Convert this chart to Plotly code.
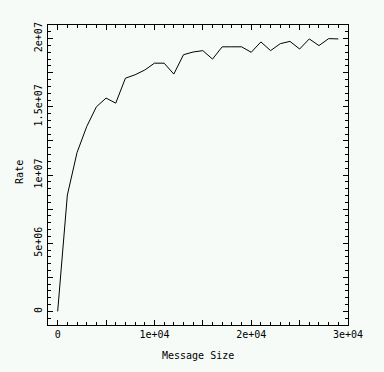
import plotly.graph_objects as go

message_size = [0, 1000, 2000, 3000, 4000, 5000, 6000, 7000, 8000, 9000,
                10000, 11000, 12000, 13000, 14000, 15000, 16000, 17000, 18000, 19000,
                20000, 21000, 22000, 23000, 24000, 25000, 26000, 27000, 28000, 29000]
rate = [0, 8.53e6, 11.64e6, 13.55e6, 15.0e6, 15.64e6, 15.27e6, 17.1e6, 17.35e6, 17.7e6,
        18.2e6, 18.2e6, 17.4e6, 18.82e6, 19.02e6, 19.12e6, 18.5e6, 19.4e6, 19.4e6, 19.4e6,
        19.0e6, 19.76e6, 19.12e6, 19.63e6, 19.8e6, 19.24e6, 19.98e6, 19.49e6, 20.0e6, 19.98e6]

x_tickvals = [0, 5000, 10000, 15000, 20000, 25000, 30000]
x_ticktext = ["0", "", "1e+04", "", "2e+04", "", "3e+04"]
y_tickvals = [0, 2.5e6, 5e6, 7.5e6, 1e7, 1.25e7, 1.5e7, 1.75e7, 2e7]
y_ticktext = ["0", "", "5e+06", "", "1e+07", "", "1.5e+07", "", "2e+07"]

FONT = "DejaVu Sans Mono"
BG = "#f6fbf8"

fig = go.Figure()
fig.add_trace(go.Scatter(x=message_size, y=rate, mode="lines",
                         line=dict(color="black", width=1), showlegend=False))

axis_common = dict(
    showline=True, linecolor="black", linewidth=1, mirror="allticks",
    ticks="inside", ticklen=5, tickcolor="black", tickwidth=1,
    showgrid=False, zeroline=False,
    tickfont=dict(family=FONT, size=10, color="black"),
)

fig.update_xaxes(range=[-1000, 30000], tickmode="array", tickvals=x_tickvals,
                 ticktext=x_ticktext,
                 minor=dict(tickmode="linear", tick0=0, dtick=1000, ticks="inside",
                            ticklen=3, tickcolor="black", tickwidth=1, showgrid=False),
                 **axis_common)
fig.update_yaxes(range=[-1e6, 2.1e7], tickmode="array", tickvals=y_tickvals,
                 ticktext=y_ticktext, tickangle=-90, ticklabelstandoff=1,
                 minor=dict(tickmode="linear", tick0=0, dtick=5e5, ticks="inside",
                            ticklen=3, tickcolor="black", tickwidth=1, showgrid=False),
                 **axis_common)

fig.update_layout(
    width=384, height=372,
    margin=dict(l=48, r=36, t=25, b=47),
    paper_bgcolor=BG, plot_bgcolor=BG,
    font=dict(family=FONT, size=10, color="black"),
    annotations=[
        dict(text="Message Size", x=0.5, y=-0.1, xref="paper", yref="paper",
             xanchor="center", yanchor="middle", showarrow=False,
             font=dict(family=FONT, size=10, color="black")),
        dict(text="Rate", x=-0.097, y=0.51, xref="paper", yref="paper",
             xanchor="center", yanchor="middle", showarrow=False, textangle=-90,
             font=dict(family=FONT, size=10, color="black")),
    ],
)

fig.write_html(
    "out.html",
    config={"displayModeBar": False},
    post_script="document.body.style.margin='0';document.body.style.background='%s';" % BG,
)
